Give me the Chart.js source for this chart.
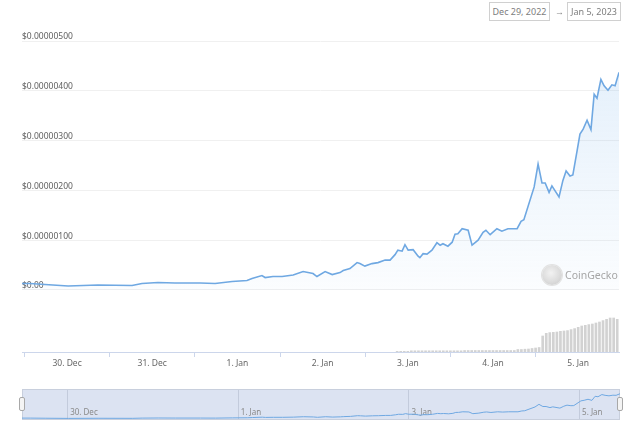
<!DOCTYPE html>
<html><head><meta charset="utf-8">
<script src="https://cdn.jsdelivr.net/npm/chart.js@4"></script>
<style>
html,body{margin:0;padding:0;background:#fff;width:624px;height:422px;overflow:hidden;font-family:'Noto Sans',sans-serif}
#main{position:absolute;left:0;top:0}
#nav{position:absolute;left:0;top:389px}
.box{position:absolute;top:2px;height:19px;border:1px solid #d0d0d0;color:#7d7d7d;font-size:9px;line-height:17px;text-align:center;box-sizing:border-box;background:#fff}
#arrow{position:absolute;left:555px;top:3px;font-size:9px;color:#888;line-height:17px}
.handle{position:absolute;top:397px;width:6px;height:14px;background:#f4f4f4;border:1px solid #a8a8a8;border-radius:2px;box-sizing:border-box}
#gecko{position:absolute;left:542px;top:265px;width:20px;height:20px;border-radius:50%;background:radial-gradient(circle at 45% 40%,#f2f2f2 0,#dcdcdc 55%,#c8c8c8 100%);box-shadow:0 0 0 1px #e2e2e2}
#geckoText{position:absolute;left:565px;top:267px;font-size:10.5px;color:#a6a6a6;line-height:16px}
</style></head>
<body>
<canvas id="main" width="624" height="380"></canvas>
<canvas id="nav" width="624" height="31"></canvas>
<div class="box" style="left:489px;width:61px">Dec 29, 2022</div>
<div id="arrow">→</div>
<div class="box" style="left:567px;width:54px">Jan 5, 2023</div>
<div id="gecko"></div><div id="geckoText">CoinGecko</div>
<div class="handle" style="left:19px"></div>
<div class="handle" style="left:617px"></div>
<script>
// hours since Dec 29, 2022 00:00
const priceHours = [11.3,13.6,17.8,24.3,32.7,42.3,45.1,49.6,54.4,61.5,
 65.7,70.5,74.7,76.1,78.9,79.8,82.0,84.6,87.7,90.5,
 93.3,94.4,96.7,98.7,100.9,101.8,103.7,105.7,106.5,107.9,
 109.9,111.6,113.6,115.0,116.4,117.2,118.4,119.2,120.1,121.5,
 122.9,123.4,124.3,125.4,126.8,128.2,129.1,129.9,131.3,132.5,
 133.3,134.1,135.3,137.0,138.1,139.8,141.2,142.0,143.2,145.1,
 146.5,148.2,150.8,151.9,152.7,155.6,156.7,157.8,158.7,159.8,
 160.6,162.6,163.7,164.6,165.7,166.5,167.7,168.5,169.4,170.5,
 171.6,172.5,173.3,174.4,175.3,176.4,177.5,178.4,179.5];
// price in USD
const pricesUsd = [13e-8,13e-8,11e-8,8e-8,10e-8,9e-8,13e-8,15e-8,14e-8,14e-8,
 13e-8,17e-8,19e-8,23e-8,29e-8,25e-8,27e-8,27e-8,30e-8,37e-8,
 33e-8,27e-8,37e-8,31e-8,35e-8,39e-8,43e-8,55e-8,53e-8,48e-8,
 53e-8,55e-8,60e-8,60e-8,71e-8,80e-8,78e-8,91e-8,80e-8,81e-8,
 68e-8,65e-8,73e-8,72e-8,80e-8,95e-8,90e-8,93e-8,88e-8,96e-8,
 112e-8,113e-8,123e-8,120e-8,90e-8,100e-8,116e-8,120e-8,111e-8,123e-8,
 118e-8,123e-8,123e-8,138e-8,141e-8,207e-8,253e-8,215e-8,215e-8,196e-8,
 209e-8,187e-8,220e-8,239e-8,229e-8,231e-8,280e-8,313e-8,323e-8,341e-8,
 322e-8,393e-8,385e-8,423e-8,410e-8,401e-8,412e-8,410e-8,437e-8];
// hourly volume bars (relative units)
const volumeHours = [];
for (let h = 117; h <= 179; h++) volumeHours.push(h);
const volumes = [7,7,7,7,
 12,12,12,12,12,12,12,12,12,12,12,12,12,12,12,
 15,15,15,15,15,15,15,15,15,15,15,15,15,15,15,
 25,25,28,30,
 35,40,45,
 160,187,194,197,200,207,210,214,224,234,247,260,267,274,280,290,300,314,327,340,340,327];
const priceTicks = [0,1e-6,2e-6,3e-6,4e-6,5e-6];
const dayTickHours = [24,48,72,96,120,144,168];
const dayTickLabels = ['30. Dec','31. Dec','1. Jan','2. Jan','3. Jan','4. Jan','5. Jan'];
const navTickHours = [24,72,120,168];
const navTickLabels = ['30. Dec','1. Jan','3. Jan','5. Jan'];

const X_MIN = 11.3, X_MAX = 179.5;
const FONT = "'Noto Sans', sans-serif";
const lineColor = '#6fa8e2';

const pricePts = priceHours.map((h,i)=>({x:h,y:pricesUsd[i]}));
const volPts = volumeHours.map((h,i)=>({x:h,y:volumes[i]}));

new Chart(document.getElementById('main'), {
  type: 'line',
  data: { datasets: [
    { type:'line', data: pricePts, yAxisID:'y', borderColor: lineColor, borderWidth: 1.6,
      pointRadius: 0, tension: 0, fill: 'origin',
      backgroundColor: (ctx) => {
        const ch = ctx.chart, a = ch.chartArea;
        if (!a) return 'rgba(124,181,236,0.1)';
        const y0 = ch.scales.y.getPixelForValue(0);
        const g = ch.ctx.createLinearGradient(0, a.top, 0, y0);
        g.addColorStop(0, 'rgba(124,181,236,0.22)');
        g.addColorStop(1, 'rgba(124,181,236,0.03)');
        return g;
      }, order: 1 },
    { type:'bar', data: volPts, yAxisID:'yv', backgroundColor:'#d2d2d2', barThickness: 2, order: 2 }
  ]},
  options: {
    responsive: false, animation: false, devicePixelRatio: 1,
    layout: { padding: { left: 22, right: 5, top: 41, bottom: 0 } },
    plugins: { legend: { display: false }, tooltip: { enabled: false } },
    scales: {
      x: { type: 'linear', min: X_MIN, max: X_MAX, offset: false,
        afterBuildTicks: s => { s.ticks = dayTickHours.map(v=>({value:v})); },
        afterFit: s => { s.height = 28; },
        grid: { drawOnChartArea: false, drawTicks: true, tickLength: 5, tickColor: '#ccd6eb' },
        border: { display: true, color: '#ccd6eb', width: 1 },
        ticks: { padding: 1, color: '#666', font: { family: FONT, size: 8.5 }, maxRotation: 0, autoSkip: false,
          callback: v => { const i = dayTickHours.indexOf(v); return i >= 0 ? dayTickLabels[i] : ''; } }
      },
      y: { type: 'linear', position: 'left', min: -1.245e-6, max: 5e-6,
        afterBuildTicks: s => { s.ticks = priceTicks.map(v=>({value:v})); },
        afterFit: s => { s.width = 0; },
        grid: { color: '#f0f0f0', drawTicks: false, lineWidth: 1 },
        border: { display: false },
        ticks: { mirror: true, padding: 0, labelOffset: -4, color: '#606060', font: { family: FONT, size: 8.5 },
          callback: v => v === 0 ? '$0.00' : '$' + v.toFixed(8) }
      },
      yv: { type: 'linear', display: false, min: 0, max: 3110 }
    }
  }
});

const navPlugin = {
  id: 'navDeco',
  beforeDatasetsDraw(chart) {
    const {ctx, chartArea: a} = chart;
    ctx.save();
    ctx.fillStyle = 'rgba(208,218,238,0.75)';
    ctx.fillRect(a.left, a.top, a.right - a.left, a.bottom - a.top);
    ctx.strokeStyle = '#c3cbdc';
    ctx.lineWidth = 1;
    const xs = chart.scales.x;
    navTickHours.forEach(h => {
      const px = Math.round(xs.getPixelForValue(h)) + 0.5;
      ctx.beginPath(); ctx.moveTo(px, a.top); ctx.lineTo(px, a.bottom); ctx.stroke();
    });
    ctx.strokeStyle = '#c8cfdd';
    ctx.strokeRect(a.left + 0.5, a.top + 0.5, a.right - a.left - 1, a.bottom - a.top - 1);
    ctx.fillStyle = '#8a8a8a';
    ctx.font = "8px " + FONT;
    ctx.textBaseline = 'alphabetic';
    navTickHours.forEach((h, i) => {
      const px = xs.getPixelForValue(h);
      ctx.fillText(navTickLabels[i], px + 3, a.bottom - 5);
    });
    ctx.restore();
  }
};

new Chart(document.getElementById('nav'), {
  type: 'line',
  data: { datasets: [{ data: pricePts, borderColor: lineColor, borderWidth: 1, pointRadius: 0, tension: 0, fill: false }] },
  options: {
    responsive: false, animation: false, devicePixelRatio: 1,
    layout: { padding: { left: 22, right: 4, top: 0, bottom: 0 } },
    plugins: { legend: { display: false }, tooltip: { enabled: false } },
    scales: {
      x: { type: 'linear', min: X_MIN, max: X_MAX, display: false },
      y: { type: 'linear', min: -20e-8, max: 520e-8, display: false }
    }
  },
  plugins: [navPlugin]
});
</script>
</body></html>
